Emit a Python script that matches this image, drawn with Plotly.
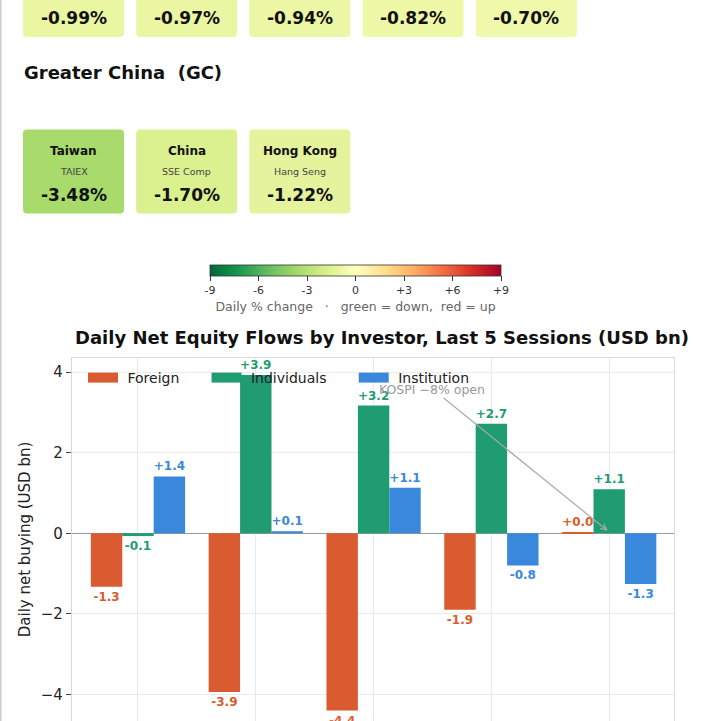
import plotly.graph_objects as go
import plotly.colors as pc

# ---- data -------------------------------------------------------------
top_row_pct = [-0.99, -0.97, -0.94, -0.82, -0.70]

gc_names = ["Taiwan", "China", "Hong Kong"]
gc_index = ["TAIEX", "SSE Comp", "Hang Seng"]
gc_pct = [-3.48, -1.70, -1.22]

cbar_ticks = [-9, -6, -3, 0, 3, 6, 9]
cbar_labels = ["-9", "-6", "-3", "0", "+3", "+6", "+9"]

sessions = ["T-4", "T-3", "T-2", "T-1", "T"]
foreign = [-1.33, -3.94, -4.40, -1.90, 0.02]
individuals = [-0.07, 3.93, 3.17, 2.72, 1.09]
institution = [1.41, 0.05, 1.13, -0.80, -1.26]

# ---- geometry helpers (pixels -> paper) -------------------------------
W = H = 721
L, R, T, B = 72, 47, 358, 0
PW, PH = W - L - R, H - T - B


def X(p):
    return (p - L) / PW


def Y(p):
    return (H - B - p) / PH


def card_path(x0, y0, x1, y1, r=4):
    return (f"M{X(x0 + r)},{Y(y0)} L{X(x1 - r)},{Y(y0)} Q{X(x1)},{Y(y0)} {X(x1)},{Y(y0 + r)} "
            f"L{X(x1)},{Y(y1 - r)} Q{X(x1)},{Y(y1)} {X(x1 - r)},{Y(y1)} "
            f"L{X(x0 + r)},{Y(y1)} Q{X(x0)},{Y(y1)} {X(x0)},{Y(y1 - r)} "
            f"L{X(x0)},{Y(y0 + r)} Q{X(x0)},{Y(y0)} {X(x0 + r)},{Y(y0)} Z")


def label(x, y, text, size, color="#111", bold=True, xanchor="center"):
    return dict(xref="paper", yref="paper", x=X(x), y=Y(y), text=text, showarrow=False,
                xanchor=xanchor, yanchor="middle",
                font=dict(family=FONT, size=size, color=color, weight="bold" if bold else "normal"))


cscale = pc.get_colorscale("RdYlGn_r")


def pct_color(v):
    return pc.sample_colorscale(cscale, [(v + 9) / 18])[0]


FONT = "DejaVu Sans"
C_FOR, C_IND, C_INS = "#d95b2f", "#1f9c72", "#3a88dc"

fig = go.Figure()

for name, vals, col in [("Foreign", foreign, C_FOR),
                        ("Individuals", individuals, C_IND),
                        ("Institution", institution, C_INS)]:
    fig.add_trace(go.Bar(
        x=sessions, y=vals, name=name, marker_color=col, showlegend=False,
        text=[f"{v:+.1f}" for v in vals], textposition="outside",
        cliponaxis=False, constraintext="none",
        textfont=dict(family=FONT, size=12, color=col, weight="bold"),
    ))
    # legend patch
    fig.add_trace(go.Scatter(
        x=[None], y=[None], mode="lines", name="\u00a0" + name + "\u00a0" * 5,
        line=dict(color=col, width=11),
    ))

# colour bar (uses the card values)
fig.add_trace(go.Scatter(
    x=[None] * len(gc_pct), y=[None] * len(gc_pct), mode="markers", showlegend=False,
    marker=dict(
        color=gc_pct, colorscale="RdYlGn_r", cmin=-9, cmax=9, showscale=True,
        colorbar=dict(
            orientation="h", xref="paper", yref="paper",
            x=X(210), xanchor="left", y=Y(265.5), yanchor="top",
            len=291, lenmode="pixels", thickness=11, thicknessmode="pixels",
            xpad=0, ypad=0, outlinewidth=0.8, outlinecolor="#333",
            tickvals=cbar_ticks, ticktext=cbar_labels, ticks="outside",
            ticklen=5, tickcolor="#333", tickfont=dict(family=FONT, size=11, color="#333"),
            title=dict(text="Daily % change\u00a0\u00a0\u00a0·\u00a0\u00a0\u00a0green = down,\u00a0\u00a0red = up",
                       side="bottom", font=dict(family=FONT, size=12.5, color="#666")),
        ),
    ),
))

shapes = []
annos = []

# top row cards (cut off by the window)
for i, v in enumerate(top_row_pct):
    x0 = 23 + i * 113.2
    shapes.append(dict(type="path", path=card_path(x0, -47, x0 + 101, 37),
                       xref="paper", yref="paper", fillcolor=pct_color(v), line_width=0, layer="below"))
    annos.append(label(x0 + 50.5, 18, f"{v:.2f}%", 17))

annos.append(label(22, 72, "Greater China\u00a0\u00a0(GC)", 18, xanchor="left"))

for i, (n, idx, v) in enumerate(zip(gc_names, gc_index, gc_pct)):
    x0 = 23 + i * 113.2
    xc = x0 + 50.5
    shapes.append(dict(type="path", path=card_path(x0, 129.5, x0 + 101, 213.5),
                       xref="paper", yref="paper", fillcolor=pct_color(v), line_width=0, layer="below"))
    annos.append(label(xc, 151, n, 12))
    annos.append(label(xc, 171.5, idx, 9.5, color="#444", bold=False))
    annos.append(label(xc, 194.5, f"{v:.2f}%", 17))

# page border on the left
shapes.append(dict(type="line", xref="paper", yref="paper", x0=X(0.8), x1=X(0.8), y0=Y(-5), y1=Y(730),
                   line=dict(color="#cccccc", width=1.5)))

# arrow annotation
annos.append(dict(x=4, y=0.03, xref="x", yref="y", ax=2.5, ay=3.58, axref="x", ayref="y",
                  text="KOSPI −8% open", showarrow=True, arrowhead=5, arrowsize=1,
                  arrowwidth=1.2, arrowcolor="#aaaaaa", standoff=2,
                  font=dict(family=FONT, size=12.5, color="#999999")))

fig.update_layout(
    template="none",
    width=W, height=H,
    margin=dict(l=L, r=R, t=T, b=B, autoexpand=False),
    paper_bgcolor="white", plot_bgcolor="white",
    font=dict(family=FONT, color="#222"),
    barmode="group", bargap=0.2, bargroupgap=0,
    title=dict(text="Daily Net Equity Flows by Investor, Last 5 Sessions (USD bn)",
               xref="container", yref="container", x=382 / W, xanchor="center",
               y=1 - 338 / H, yanchor="middle",
               font=dict(family=FONT, size=18, color="#111", weight="bold")),
    legend=dict(orientation="h", x=X(83), xanchor="left", y=Y(362), yanchor="top",
                bgcolor="rgba(0,0,0,0)", font=dict(family=FONT, size=14, color="#222"),
                itemclick=False),
    shapes=shapes,
    annotations=annos,
    xaxis=dict(range=[-0.56, 4.55], showticklabels=False, ticks="",
               showgrid=True, gridcolor="#e9e9e9", gridwidth=1,
               showline=True, mirror=True, linecolor="#d9d9d9", linewidth=1.2, zeroline=False),
    yaxis=dict(range=[-4.66, 4.35], tickvals=[-4, -2, 0, 2, 4], ticks="outside", ticklen=5,
               tickcolor="#444", tickfont=dict(family=FONT, size=15, color="#222"),
               showgrid=True, gridcolor="#ebebeb", gridwidth=1,
               showline=True, mirror=True, linecolor="#d9d9d9", linewidth=1.2,
               zeroline=True, zerolinecolor="#999999", zerolinewidth=1.2,
               title=dict(text="Daily net buying (USD bn)", standoff=6,
                          font=dict(family=FONT, size=15, color="#222"))),
)

# drop the default page margin so the figure fills the window
fig.write_html("out.html", config={"displayModeBar": False},
               post_script="document.body.style.margin = '0';")
